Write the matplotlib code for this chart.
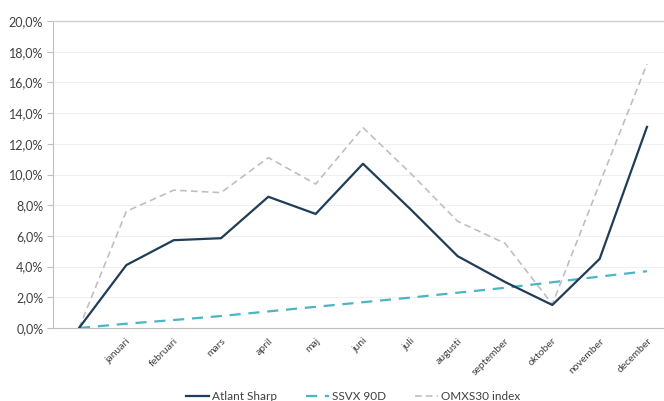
import matplotlib
matplotlib.use("Agg")
import matplotlib.pyplot as plt
from matplotlib.ticker import FuncFormatter, MultipleLocator

plt.rcParams['font.family'] = ['Lato', 'DejaVu Sans']

months = ["", "januari", "februari", "mars", "april", "maj", "juni", "juli",
          "augusti", "september", "oktober", "november", "december"]
atlant = [0.0, 4.1, 5.72, 5.85, 8.55, 7.43, 10.7, 7.75, 4.68, 3.0, 1.5, 4.5, 13.1]
ssvx = [0.0, 0.28, 0.52, 0.78, 1.08, 1.38, 1.68, 1.98, 2.3, 2.62, 2.98, 3.35, 3.7]
omx = [0.0, 7.6, 8.98, 8.82, 11.1, 9.38, 13.05, 10.1, 6.95, 5.52, 1.55, 9.4, 17.2]

fig = plt.figure(figsize=(6.64, 4.01), dpi=100)
ax = fig.add_axes([53/664, 1-328/401, (664-53)/664, (328-21)/401])

x = list(range(len(months)))
ax.plot(x, atlant, color='#1F3D58', lw=1.6, label='Atlant Sharp', zorder=4)
ax.plot(x, ssvx, color='#4BB5C1', lw=1.6, ls=(0, (5, 3.5)), label='SSVX 90D', zorder=3)
ax.plot(x, omx, color='#BFBFBF', lw=1.2, ls=(0, (4, 2.5)), label='OMXS30 index', zorder=2)

ax.set_xlim(-0.55, 12.36)
ax.set_ylim(0, 20)
ax.yaxis.set_major_locator(MultipleLocator(2))
ax.yaxis.set_major_formatter(FuncFormatter(lambda v, p: f"{v:.1f}%".replace('.', ',')))
ax.set_xticks(x)
ax.set_xticklabels(months, rotation=45, ha='right', rotation_mode='anchor', fontsize=7.5, color='#404040')
ax.tick_params(axis='x', length=0, pad=6)
ax.tick_params(axis='y', length=4, width=0.8, color='#BFBFBF', labelsize=9, labelcolor='#404040', pad=3)
ax.grid(axis='y', color='#F0F0F0', lw=0.8)
ax.set_axisbelow(True)
ax.spines['right'].set_visible(False)
ax.spines['top'].set_color('#D0D0D0')
ax.spines['left'].set_color('#BFBFBF')
ax.spines['bottom'].set_color('#BFBFBF')
ax.spines['top'].set_linewidth(1.0)

fig.legend(loc='center', bbox_to_anchor=(0.532, 1-397/401), ncol=3, frameon=False,
           fontsize=8.5, handlelength=2.0, columnspacing=2.4, handletextpad=0.25,
           labelcolor='#404040')

fig.savefig('out.png', dpi=100)
